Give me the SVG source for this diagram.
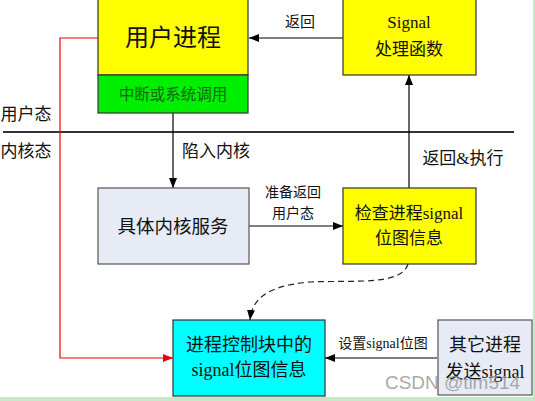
<svg xmlns="http://www.w3.org/2000/svg" width="535" height="401" viewBox="0 0 535 401">
<defs>
<style>
.t{font-family:"Liberation Serif","Noto Sans CJK SC",serif;fill:#111;text-anchor:middle;dominant-baseline:central}
.box{stroke:#333;stroke-width:1.2}
.ln{stroke:#000;stroke-width:1.2;fill:none}
</style>
<marker id="ah" viewBox="0 0 10 8" refX="10" refY="4" markerWidth="10" markerHeight="8" markerUnits="userSpaceOnUse" orient="auto"><path d="M0,0 L10,4 L0,8 Z" fill="#000"/></marker>
<marker id="ahr" viewBox="0 0 10 8" refX="10" refY="4" markerWidth="10" markerHeight="8" markerUnits="userSpaceOnUse" orient="auto"><path d="M0,0 L10,4 L0,8 Z" fill="#e00"/></marker>
</defs>
<rect x="0" y="0" width="535" height="401" fill="#fff"/>
<rect x="533" y="0" width="2" height="401" fill="#c6e8c9"/>
<rect x="0" y="397" width="535" height="4" fill="#c6e8c9"/>

<line x1="3" y1="132" x2="514" y2="132" stroke="#333" stroke-width="2.2"/>
<text class="t" x="26" y="114" font-size="17">用户态</text>
<text class="t" x="26" y="151" font-size="17">内核态</text>

<g id="connectors">
<path class="ln" d="M343,38 L249,38" marker-end="url(#ah)"/>
<text class="t" x="300" y="22" font-size="15">返回</text>
<path class="ln" d="M173,113 L173,188" marker-end="url(#ah)"/>
<text class="t" x="216" y="151" font-size="17">陷入内核</text>
<path class="ln" d="M249,226 L343,226" marker-end="url(#ah)"/>
<text class="t" x="293" y="192" font-size="14">准备返回</text>
<text class="t" x="293" y="213" font-size="14">用户态</text>
<path class="ln" d="M409,188 L409,75" marker-end="url(#ah)"/>
<text class="t" x="463" y="158" font-size="17">返回&amp;执行</text>
<path class="ln" d="M437,358 L325,358" marker-end="url(#ah)"/>
<text class="t" x="383" y="343" font-size="14">设置signal位图</text>
<path d="M408,264 C402,286 352,280 310,282 C265,286 252,300 250,320" fill="none" stroke="#222" stroke-width="1.2" stroke-dasharray="6,4" marker-end="url(#ah)"/>
<path d="M98,38 L60,38 L60,358 L173,358" fill="none" stroke="#e00" stroke-width="1.2" marker-end="url(#ahr)"/>
</g>

<g id="user-process">
<rect class="box" x="98" y="-1" width="150" height="76" fill="#ffff00"/>
<rect class="box" x="98" y="75" width="150" height="38" fill="#00ee00"/>
<text class="t" x="173" y="38" font-size="24">用户进程</text>
<text class="t" x="173" y="94" font-size="15.5" style="fill:#116611">中断或系统调用</text>
</g>

<g id="signal-handler">
<rect class="box" x="343" y="-1" width="133" height="76" fill="#ffff00"/>
<text class="t" x="409" y="22" font-size="17">Signal</text>
<text class="t" x="409" y="49" font-size="17">处理函数</text>
</g>

<g id="kernel-service">
<rect x="98" y="188" width="151" height="76" fill="#e6ebf5" stroke="#555" stroke-width="1.2"/>
<text class="t" x="173" y="227" font-size="18.5">具体内核服务</text>
</g>

<g id="check-signal">
<rect class="box" x="343" y="188" width="133" height="76" fill="#ffff00"/>
<text class="t" x="409" y="213" font-size="17">检查进程signal</text>
<text class="t" x="409" y="238" font-size="17">位图信息</text>
</g>

<g id="pcb-signal">
<rect class="box" x="173" y="320" width="152" height="76" fill="#00ffff"/>
<text class="t" x="249" y="345" font-size="18">进程控制块中的</text>
<text class="t" x="249" y="370" font-size="18">signal位图信息</text>
</g>

<g id="other-process">
<rect x="438" y="320" width="94" height="75" fill="#e6ebf5" stroke="#555" stroke-width="1.2"/>
<text class="t" x="485" y="345" font-size="18">其它进程</text>
<text class="t" x="485" y="372" font-size="18">发送signal</text>
</g>

<text x="385" y="389" font-family="Liberation Sans, sans-serif" font-size="19" fill="#999" fill-opacity="0.85" textLength="135" lengthAdjust="spacingAndGlyphs">CSDN @tim514</text>
</svg>
